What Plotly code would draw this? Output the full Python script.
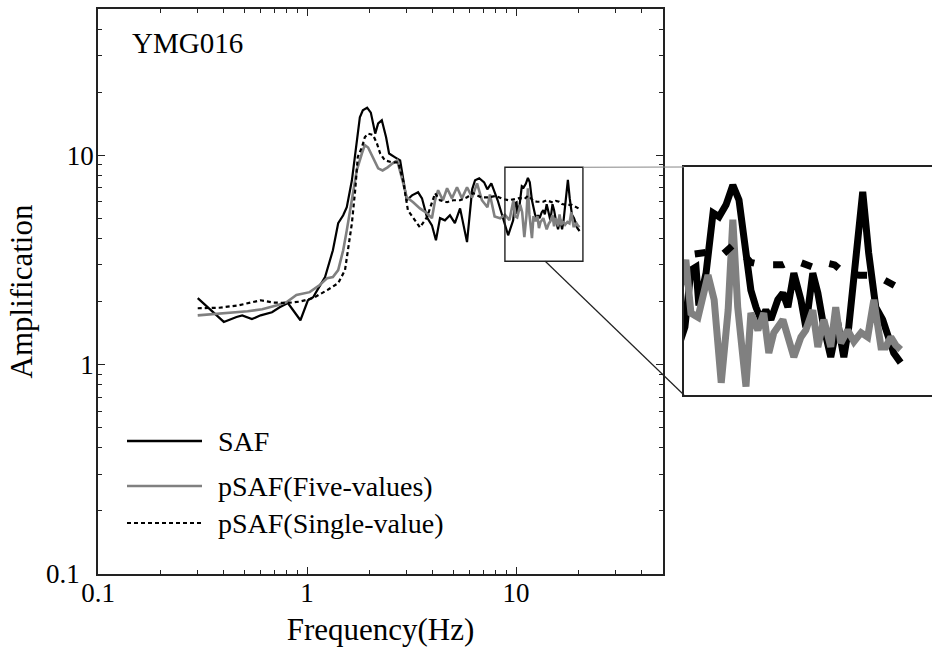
import plotly.graph_objects as go
import math

# ---------------- data ----------------
saf_freq = [0.30, 0.40, 0.46, 0.49, 0.545, 0.60, 0.68, 0.74, 0.81, 0.86, 0.93, 1.01, 1.07, 1.12,
            1.22, 1.33, 1.41, 1.49, 1.55, 1.64, 1.73, 1.79, 1.85, 1.94, 2.02, 2.12, 2.19, 2.28,
            2.39, 2.47, 2.64, 2.79, 2.91, 3.00, 3.18, 3.40, 3.55, 3.75, 3.96, 4.14, 4.33, 4.57,
            4.83, 5.10, 5.40, 5.83, 6.17, 6.37, 6.67, 7.04, 7.29, 7.62, 8.17, 8.67, 9.17, 9.69,
            9.89, 10.06, 10.16, 10.41, 10.66, 10.88, 11.14, 11.40, 11.64, 11.92, 12.12, 12.33,
            12.54, 12.75, 12.97, 13.28, 13.51, 13.74, 14.02, 14.36, 14.60, 14.95, 15.21, 15.52,
            15.89, 16.27, 16.61, 16.89, 17.30, 17.71, 18.07, 18.51, 18.95, 19.34, 19.67, 20.14]
saf_amp = [2.08, 1.60, 1.69, 1.72, 1.65, 1.72, 1.78, 1.88, 1.97, 1.82, 1.63, 2.03, 2.10, 2.27,
           2.62, 3.52, 4.74, 5.17, 5.65, 7.60, 11.8, 15.2, 16.4, 16.9, 16.0, 12.7, 14.2, 14.7,
           12.2, 10.2, 9.78, 9.46, 7.35, 6.10, 6.44, 6.66, 6.23, 5.06, 4.63, 3.93, 5.01, 4.89,
           5.17, 4.74, 5.58, 3.85, 6.88, 7.60, 7.77, 7.43, 6.88, 7.35, 6.10, 5.06, 4.15, 4.89,
           5.90, 5.96, 5.25, 5.84, 7.12, 7.03, 7.31, 7.80, 7.43, 6.10, 5.52, 5.22,
           5.01, 5.17, 5.01, 5.35, 5.47, 5.22, 5.84, 5.35, 4.89, 5.84, 5.47, 4.89,
           4.43, 4.96, 4.43, 4.89, 6.10, 7.63, 6.24, 5.22, 5.01, 4.69, 4.49, 4.35]

five_freq = [0.30, 0.40, 0.52, 0.61, 0.72, 0.80, 0.89, 1.03, 1.15, 1.25, 1.33, 1.41, 1.49, 1.55,
             1.64, 1.73, 1.83, 1.89, 1.96, 2.07, 2.19, 2.30, 2.43, 2.57, 2.70, 2.84, 3.00, 3.22,
             3.47, 3.75, 3.96, 4.10, 4.24, 4.47, 4.68, 4.94, 5.22, 5.51, 5.83, 6.17, 6.51, 6.87,
             7.30, 7.50, 7.90, 8.40, 8.85, 9.30, 9.72, 9.89, 10.13, 10.48, 10.70, 10.96, 11.22,
             11.40, 11.59, 11.92, 12.12, 12.41, 12.66, 12.88, 13.10, 13.51, 13.74, 14.02, 14.36,
             14.60, 14.95, 15.21, 15.52, 15.89, 16.16, 16.44, 16.83, 17.19, 17.61, 18.01, 18.39,
             18.84, 19.15, 19.48, 19.80, 20.14]
five_amp = [1.72, 1.76, 1.80, 1.84, 1.92, 1.99, 2.15, 2.22, 2.40, 2.59, 2.62, 2.83, 3.52, 4.38,
            6.10, 8.47, 10.2, 11.2, 10.9, 9.78, 8.67, 8.47, 8.76, 9.16, 9.46, 7.85, 6.30, 5.97,
            5.58, 5.29, 5.01, 6.10, 6.81, 6.10, 6.96, 6.23, 7.04, 6.23, 7.04, 6.30, 7.35, 6.10,
            5.65, 6.50, 5.10, 5.00, 5.20, 4.90, 6.10, 5.12, 5.05, 5.80, 5.35, 4.07, 5.17,
            6.96, 5.22, 4.02, 5.12, 4.84, 5.12, 4.49, 4.80, 5.01, 4.69, 4.43, 4.73,
            4.84, 5.17, 4.58, 5.01, 4.58, 5.22, 4.64, 4.84, 4.66, 4.80, 4.73, 5.35,
            4.58, 4.58, 4.73, 4.61, 4.54]

single_freq = [0.30, 0.38, 0.47, 0.60, 0.69, 0.80, 0.92, 1.07, 1.25, 1.41, 1.52, 1.57, 1.64, 1.70,
               1.75, 1.83, 1.89, 1.96, 2.07, 2.16, 2.24, 2.36, 2.55, 2.73, 2.88, 3.04, 3.22, 3.47,
               3.75, 3.96, 4.10, 4.33, 4.68, 5.00, 5.40, 5.83, 6.23, 6.80, 7.40, 8.00, 8.60, 9.20,
               9.80, 10.4, 11.0, 11.4, 11.6, 12.1, 12.6, 13.5, 14.0, 15.0, 15.5, 16.1, 16.6, 17.5,
               18.5, 19.2, 19.7, 20.1]
single_amp = [1.86, 1.87, 1.92, 2.03, 1.98, 1.97, 2.00, 2.08, 2.27, 2.45, 2.83, 3.52, 4.74, 6.81,
              9.84, 10.9, 12.2, 12.7, 12.5, 11.4, 10.2, 9.46, 9.26, 9.26, 7.60, 5.46, 5.01, 4.53,
              5.06, 5.90, 6.59, 6.10, 5.97, 6.10, 6.10, 6.30, 6.60, 6.30, 6.30, 6.40, 6.20, 6.10,
              6.20, 6.25, 6.20, 6.40, 6.35, 6.05, 6.00, 6.00, 6.10, 5.95, 6.05, 6.00, 5.85, 5.80,
              5.80, 5.70, 5.60, 5.55]

tick_vals = [0.1, 1, 10]
x_tick_text = ["0.1", "1", "10"]
# the lowest y label ("0.1") is placed as a separate text left of the x-axis "0.1"
y_tick_text = ["", "1", "10"]
y_low_label = "0.1"
minor_x = [0.2, 0.3, 0.4, 0.5, 0.6, 0.7, 0.8, 0.9, 2, 3, 4, 5, 6, 7, 8, 9, 20, 30, 40, 50]
minor_y = [0.2, 0.3, 0.4, 0.5, 0.6, 0.7, 0.8, 0.9, 2, 3, 4, 5, 6, 7, 8, 9, 20, 30, 40, 50]

series_names = ["SAF", "pSAF(Five-values)", "pSAF(Single-value)"]
station = "YMG016"
x_title = "Frequency(Hz)"
y_title = "Amplification"

# zoom window shown in the inset (data units)
zoom_x = [8.85, 20.9]
zoom_y = [3.12, 8.77]
inset_x_range = [9.66, 22.4]
inset_y_range = [3.91, 8.28]

# ---------------- layout geometry ----------------
W, H = 932, 649
ML, MR, MT, MB = 98, 0, 9, 75
PW, PH = W - ML - MR, H - MT - MB
FONT = "Liberation Serif, Times New Roman, serif"
BLACK = "#000000"
GRAY = "#808080"


def pxx(px):
    return (px - ML) / PW


def pxy(py):
    return (H - MB - py) / PH


main_dom_x = [0, pxx(663)]
inset_dom_x = [pxx(684), 1.0]
inset_dom_y = [pxy(395), pxy(167)]

x_range = [-1, math.log10(50.5)]
y_range = [-1, math.log10(50)]

fig = go.Figure()

styles = [
    dict(color=BLACK, dash="solid"),
    dict(color=GRAY, dash="solid"),
    dict(color=BLACK, dash="4px,3px"),
]
data = [(saf_freq, saf_amp), (five_freq, five_amp), (single_freq, single_amp)]
main_w = [2.2, 2.6, 2.2]
inset_dash = ["solid", "solid", "11px,19px"]

for (fx, fy), st, name, w in zip(data, styles, series_names, main_w):
    fig.add_trace(go.Scatter(x=fx, y=fy, mode="lines", name=name, showlegend=False,
                             line=dict(color=st["color"], width=w, dash=st["dash"]),
                             xaxis="x", yaxis="y"))
for (fx, fy), st, name, d in zip(data, styles, series_names, inset_dash):
    fig.add_trace(go.Scatter(x=fx, y=fy, mode="lines", name=name, showlegend=False,
                             line=dict(color=st["color"], width=7, dash=d),
                             xaxis="x2", yaxis="y2"))

TICKFONT = dict(family=FONT, size=27, color=BLACK)
axis_common = dict(type="log", showgrid=False, zeroline=False, showline=True,
                   linecolor="#222", linewidth=1.6, mirror="allticks",
                   ticks="inside", ticklen=7, tickwidth=1.4, tickcolor="#222",
                   tickvals=tick_vals, tickfont=TICKFONT)

fig.update_layout(
    width=W, height=H,
    margin=dict(l=ML, r=MR, t=MT, b=MB),
    paper_bgcolor="white", plot_bgcolor="rgba(0,0,0,0)",
    showlegend=False,
    xaxis=dict(domain=main_dom_x, range=x_range, **axis_common, ticktext=x_tick_text,
               ticklabelstandoff=-6,
               minor=dict(tickvals=minor_x, ticks="inside", ticklen=4, tickwidth=1.2, tickcolor="#222"),
               title=dict(text=x_title, font=dict(family=FONT, size=31, color=BLACK), standoff=11)),
    yaxis=dict(domain=[0, 1], range=y_range, **axis_common, ticktext=y_tick_text,
               ticklabelstandoff=-3,
               minor=dict(tickvals=minor_y, ticks="inside", ticklen=4, tickwidth=1.2, tickcolor="#222"),
               title=dict(text=y_title, font=dict(family=FONT, size=31, color=BLACK), standoff=25)),
    xaxis2=dict(type="log", domain=inset_dom_x, anchor="y2",
                range=[math.log10(v) for v in inset_x_range],
                showgrid=False, zeroline=False, showline=True, linecolor="#222", linewidth=1.6,
                mirror=True, ticks="", showticklabels=False),
    yaxis2=dict(type="log", domain=inset_dom_y, anchor="x2",
                range=[math.log10(v) for v in inset_y_range],
                showgrid=False, zeroline=False, showline=True, linecolor="#222", linewidth=1.6,
                mirror=False, ticks="", showticklabels=False),
)

# zoom window rectangle (data coordinates on main axes)
fig.add_shape(type="rect", xref="x", yref="y", x0=zoom_x[0], x1=zoom_x[1], y0=zoom_y[0], y1=zoom_y[1],
              line=dict(color="#222", width=1.4), fillcolor="rgba(0,0,0,0)")


# connector lines (convert data -> paper)
def data_to_paper_x(v):
    lv = math.log10(v)
    return main_dom_x[0] + (lv - x_range[0]) / (x_range[1] - x_range[0]) * (main_dom_x[1] - main_dom_x[0])


def data_to_paper_y(v):
    lv = math.log10(v)
    return (lv - y_range[0]) / (y_range[1] - y_range[0])


fig.add_shape(type="line", xref="paper", yref="paper",
              x0=data_to_paper_x(zoom_x[1]), y0=data_to_paper_y(zoom_y[1]),
              x1=inset_dom_x[0], y1=inset_dom_y[1], line=dict(color="#888", width=1.2))
fig.add_shape(type="line", xref="paper", yref="paper",
              x0=data_to_paper_x(13.8), y0=data_to_paper_y(zoom_y[0]),
              x1=inset_dom_x[0], y1=inset_dom_y[0], line=dict(color="#222", width=1.2))

# lowest y tick label, placed just left of the x-axis "0.1"
fig.add_annotation(xref="paper", yref="y", x=pxx(81), y=math.log10(tick_vals[0]),
                   xanchor="right", yanchor="middle", text=y_low_label, showarrow=False,
                   borderpad=0, font=TICKFONT)

# station label
fig.add_annotation(xref="paper", yref="paper", x=pxx(130), y=pxy(43), xanchor="left", yanchor="middle",
                   text=station, showarrow=False, font=dict(family=FONT, size=29, color=BLACK))

# manual legend
leg_rows = [441, 486, 523]
leg_dash = ["solid", "solid", "4px,3px"]
leg_w = [2.4, 2.6, 2.2]
for name, st, yy, dsh, lw in zip(series_names, styles, leg_rows, leg_dash, leg_w):
    fig.add_shape(type="line", xref="paper", yref="paper", x0=pxx(127), x1=pxx(202), y0=pxy(yy), y1=pxy(yy),
                  line=dict(color=st["color"], width=lw, dash=dsh))
    fig.add_annotation(xref="paper", yref="paper", x=pxx(216), y=pxy(yy), xanchor="left", yanchor="middle",
                       text=name, showarrow=False, font=dict(family=FONT, size=28, color=BLACK))

fig.write_html("out.html")
